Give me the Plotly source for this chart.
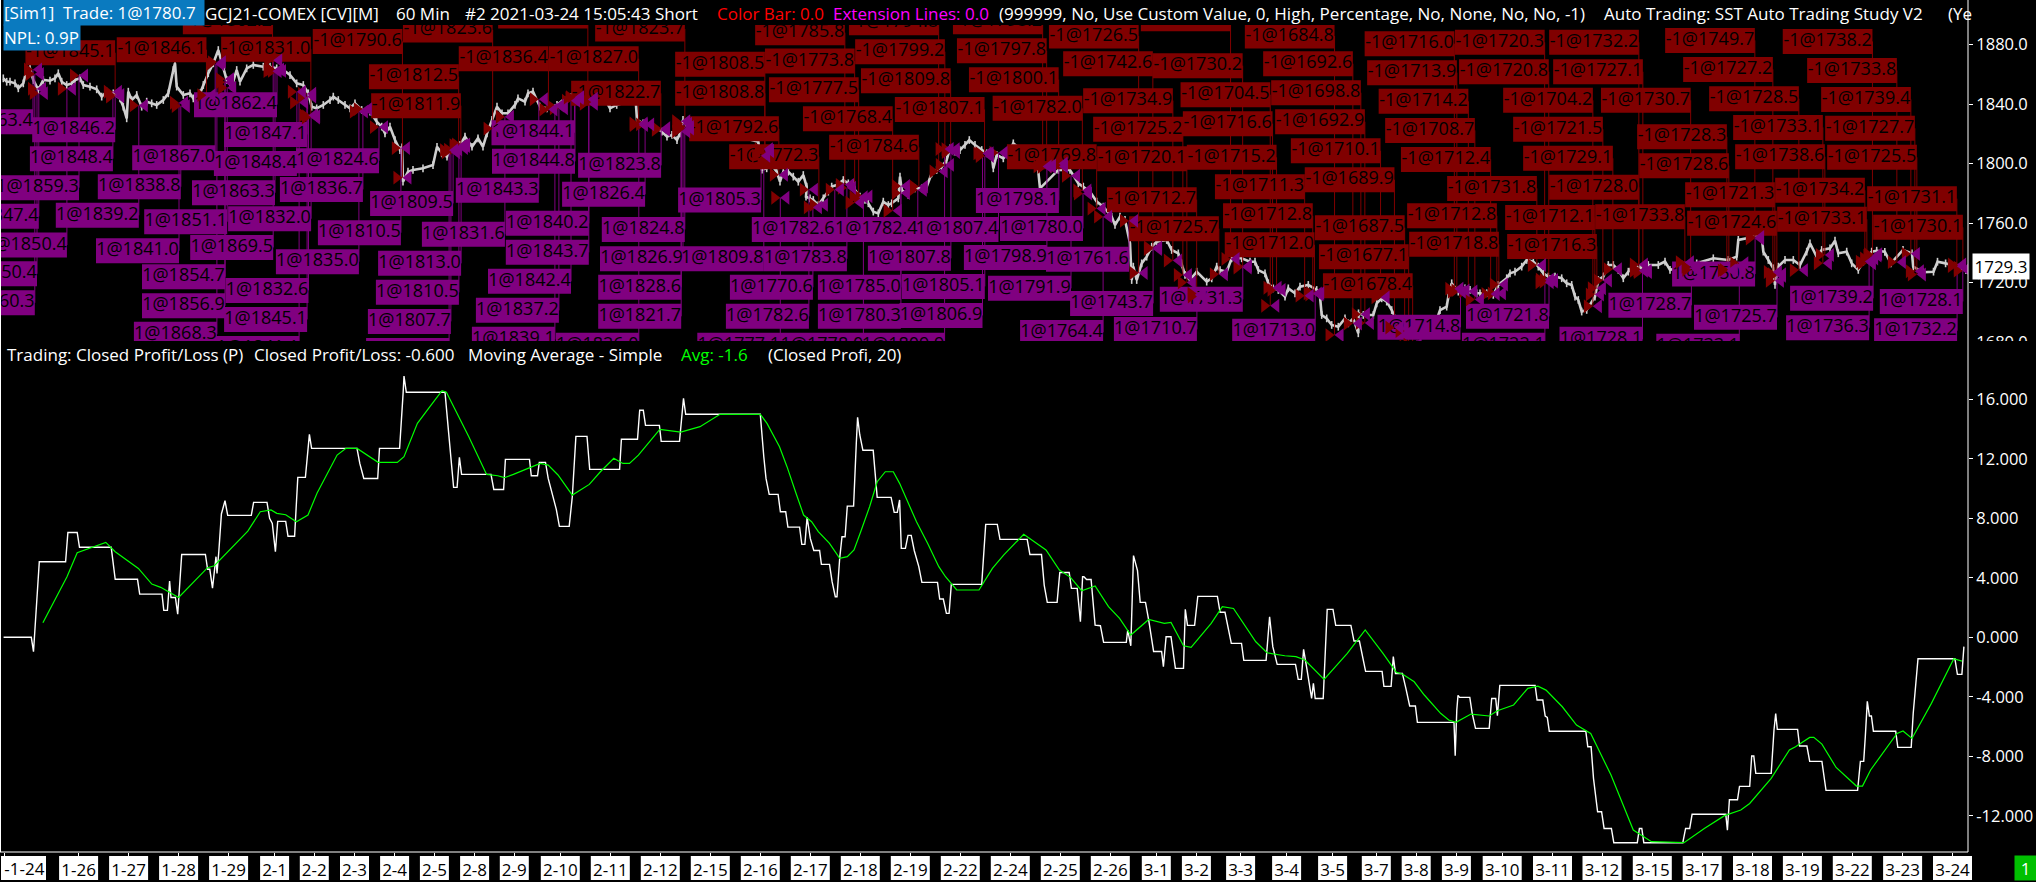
import plotly.graph_objects as go

W, H = 2036, 882
FONT = "Open Sans"

# ---------- price pane: bar position / price ----------
price_x = [3.3,6.7,10,15,18.3,23.3,26.7,30,33.3,38.3,43.3,50,55,58.3,61.7,66.7,71.7,75,80,83.3,90,96.7,101.7,106.7,113.3,120,123.3,126.7,128.3,131.7,136.7,141.7,146.7,151.7,156.7,163.3,168.3,173.3,175,176.7,183.3,190,193.3,200,203.3,208.3,213.3,218.3,226.7,231.7,236.7,240,246.7,253.3,263.3,270,276.7,283.3,290,296.7,303.3,308.3,311.7,316.7,323.3,330,333.3,338.3,345,350,355,361.7,370,376.7,381.7,385,390,395,400,402,403,408,413,423,433,437,442,447,453,460,465,472,478,483,487,492,497,502,508,515,518,525,528,533,540,547,557,563,573,583,592,600,610,616.7,633,636,637,643,653,662,667,672,677,680,683,687,700,720,740,758.3,762,766.7,771.7,776.7,780,783.3,788.3,793.3,798.3,803.3,806.7,806,810,813.3,818.3,823.3,828.3,831.7,836.7,843.3,848.3,853.3,855,860,865,868.3,873.3,878.3,883.3,888.3,891.7,898.3,900,901.7,908.3,915,921.7,926.7,931.7,936.7,941.7,946.7,950,955,960,965,969.3,975,981.7,986.7,991.7,993.3,996.7,1003.3,1008.3,1013.3,1020,1030,1038,1040,1058.3,1070,1078.3,1083.3,1090,1096.7,1103.3,1111.7,1115,1120,1125,1130,1131.7,1133.3,1136.7,1141.7,1146.7,1151.7,1156.7,1166.7,1171.7,1178.3,1181.7,1185,1190,1196.7,1206.7,1211.7,1216.7,1220,1226.7,1231.7,1241.7,1250,1255,1258.3,1265,1268.3,1273.3,1278.3,1285,1288.3,1295,1300,1308.3,1316.7,1320,1321.7,1326.7,1331.7,1338.3,1345,1348.3,1353.3,1358.3,1358.5,1363.3,1373.3,1376.7,1381.7,1386.7,1391.7,1400,1420,1435,1440,1446.7,1448.3,1451.7,1458.3,1465,1470,1476.7,1480,1486.7,1493.3,1498.3,1506.7,1510,1515,1521.7,1526.7,1533.3,1538.3,1543.3,1548.3,1555,1561.7,1566.7,1571.7,1575,1578.3,1581.7,1586.7,1595,1598.3,1603.3,1608.3,1613.3,1618.3,1623.3,1628.3,1633.3,1640,1648.3,1658.3,1665,1670,1680,1696.7,1713.3,1728.3,1736.7,1738.3,1746.7,1751.7,1761.7,1763.3,1768.3,1773.3,1775,1778.3,1785,1793.3,1800,1806.7,1810,1816.7,1821.7,1830,1835,1838.3,1846.7,1851.7,1858.3,1863.3,1871.7,1876.7,1884.8,1890.9,1903,1912,1913.2,1923.3,1933.5,1937.5,1945.6,1955.8,1966]
price_y = [1857.4,1855.1,1855.1,1854,1850.7,1854,1863,1864.1,1856.3,1849.5,1856.3,1855.8,1857.4,1860.8,1855.1,1852.9,1854,1856.3,1857.4,1852.9,1851.8,1850,1845.1,1848.4,1847.3,1843.9,1838.3,1830.5,1848.4,1842.8,1846.2,1838.3,1841.7,1840.6,1839.5,1842.8,1847.3,1863,1867.5,1851.8,1846.2,1847.3,1843.9,1847.3,1852.9,1860.8,1867.5,1876.4,1856.3,1851.8,1863,1855.1,1864.1,1866.4,1865.2,1865.2,1864.1,1863,1859.6,1854,1852.9,1847.3,1838.3,1837.2,1839.5,1842.8,1845.1,1842.8,1839.5,1837.2,1840.6,1836.1,1835,1828.3,1824.9,1820.4,1824.9,1815.9,1809.2,1811,1787.9,1794.6,1795.8,1796.9,1799.1,1811.4,1807,1804.7,1813.7,1812.6,1818.2,1811.4,1817.1,1811.4,1820.4,1829.4,1838.3,1833.9,1833.9,1839.5,1843.9,1841.7,1847.3,1848.4,1838.3,1837.2,1839.5,1842.8,1847.3,1840.6,1847.3,1849.5,1837.2,1839.5,1842.8,1839.5,1829.4,1827.1,1826,1821.5,1818.2,1819.3,1815.9,1820.4,1829.4,1824.9,1822,1820,1818,1814.8,1796,1796.9,1799.1,1794.6,1787.9,1794.6,1794.6,1791.3,1787.9,1792.4,1784.6,1777.8,1776.7,1775.6,1772.2,1776.7,1781.2,1784.6,1785.7,1789,1786.8,1786.8,1782.3,1777.8,1775.6,1773.4,1767.8,1766.6,1774.5,1772.2,1773.4,1776.7,1791.3,1782.3,1779,1783.4,1783.4,1784.6,1793.5,1795.8,1798,1802.5,1810.3,1808.1,1809.2,1812.6,1815.9,1812.6,1809.2,1807,1805.9,1796.9,1805.9,1803.6,1807,1813.7,1810,1800,1796.9,1783.4,1795.8,1795.8,1786.8,1784.6,1781.2,1774.5,1771.1,1764.4,1758.8,1764.4,1762.2,1746.5,1721.8,1730.8,1721.8,1733,1737.5,1744.2,1747.6,1748.7,1742,1739.7,1733,1725.2,1721.8,1727.4,1720.7,1722.9,1730.8,1728.5,1727.4,1736.4,1736.4,1734.1,1734.1,1728.5,1726.3,1719.6,1716.2,1715.1,1710.6,1716.2,1712.9,1717.3,1718.5,1715.1,1710.6,1698.3,1696,1691.6,1690.4,1696,1692.7,1696,1686,1699.4,1698.3,1698.3,1706.1,1709.5,1707.3,1701.6,1690,1685,1692,1701.6,1703.9,1710.6,1719.6,1714,1716.2,1715.1,1712.9,1712.9,1712.9,1711.8,1718.5,1723,1726.3,1727.4,1730.8,1735.3,1734.2,1730.8,1726.3,1724.1,1724.1,1723,1719.6,1718.5,1710.6,1708.4,1700.6,1701.7,1710.6,1721.8,1724.1,1731.9,1731.9,1728.6,1723,1727.4,1731.9,1729.7,1731.9,1731.9,1734.2,1728.6,1730.8,1733,1736.4,1735.3,1737.5,1748.8,1749.9,1752.1,1751.4,1740.9,1735.3,1729.7,1718.5,1730.8,1735.3,1735.3,1731.9,1740.9,1746.5,1737.5,1742,1743.1,1748.3,1739.8,1740.9,1733,1728.6,1734.2,1740.9,1741.5,1740.8,1733,1742,1739.7,1730.8,1727,1727.4,1734.1,1733,1730.8,1728.5]

# ---------- trades: fill price, label centre on the bar axis, label level on the price axis ----------
sell_price = [1862.2,1845.1,1846.1,1831.0,1790.6,1823.6,1812.5,1811.9,1836.4,1827.0,1822.7,1823.7,1843.1,1808.5,1808.8,1792.6,1785.8,1794.8,1798.2,1726.5,1736.0,1684.8,1773.8,1799.2,1797.8,1742.6,1730.2,1692.6,1777.5,1809.8,1800.1,1734.9,1704.5,1698.8,1768.4,1807.1,1782.0,1725.2,1716.6,1692.9,1784.6,1772.3,1769.8,1720.1,1715.2,1710.1,1711.3,1689.9,1712.7,1712.8,1687.5,1725.7,1712.0,1677.1,1678.4,1716.0,1720.3,1732.2,1749.7,1738.2,1713.9,1720.8,1727.1,1727.2,1733.8,1714.2,1704.2,1730.7,1728.5,1739.4,1708.7,1721.5,1728.3,1733.1,1727.7,1712.4,1729.1,1728.6,1738.6,1725.5,1731.8,1728.0,1721.3,1734.2,1731.1,1712.8,1712.1,1733.8,1724.6,1733.1,1730.1,1718.8,1716.3]
sell_label_x = [227.7,70.3,161.6,266,357.6,447.8,413.8,416,503.6,593.8,616,640,543,720,720,734,800,893.8,997.8,1093.8,1185.7,1289.7,809.8,900,1001.8,1108,1197.8,1308,813.8,905.8,1013.8,1128,1225.4,1316,847.8,939.7,1037.5,1138,1227.7,1320,874,774,1051.8,1142,1231.7,1335.7,1259.8,1349.6,1151.8,1267.9,1359.8,1174,1269.6,1363.8,1367.8,1409.5,1499.8,1594,1710,1827.6,1412,1503.9,1598,1728,1852,1423.5,1548,1645.8,1754,1866,1430,1558,1682,1778,1870,1445.8,1568,1684,1780,1872,1492,1594,1730,1820,1912,1452,1550,1640,1732,1822,1918,1454,1552]
sell_label_y = [1895.5,1874.6,1876.6,1876.9,1882.2,1889.9,1858.5,1839.0,1870.6,1870.6,1847.3,1890.5,1899.3,1866.8,1847.3,1823.5,1888.1,1894.8,1895.5,1885.8,1897.5,1885.8,1869,1875.3,1876,1867.2,1865.9,1867.2,1849.7,1855.8,1856.5,1842.4,1846.4,1847.7,1830.2,1836.5,1837.2,1823.1,1826.9,1828.2,1811,1804.7,1804.7,1803.4,1804.3,1808.7,1784.5,1789.2,1775.8,1765,1757,1756.3,1745.5,1737.5,1718,1880.7,1881.6,1881.6,1882.9,1882.2,1861.2,1861.8,1861.8,1863.4,1862.7,1841.9,1842.6,1842.6,1843.7,1843.2,1822.4,1823.1,1818.1,1824.4,1823.8,1802.9,1803.6,1798.7,1804.7,1804.3,1783.4,1784.1,1779.2,1782.1,1776.5,1765,1763.9,1764.4,1759.9,1762.6,1757.2,1745.8,1744.4]

buy_price = [1863.4,1846.2,1848.4,1859.3,1847.4,1850.4,1850.4,1860.3,1862.4,1847.1,1867.0,1848.4,1824.6,1838.8,1863.3,1836.7,1839.2,1851.1,1832.0,1841.0,1869.5,1810.5,1835.0,1854.7,1832.6,1856.9,1845.1,1868.3,1841.1,1809.5,1831.6,1813.0,1810.5,1807.7,1809.1,1844.1,1844.8,1843.3,1840.2,1843.7,1842.4,1837.2,1839.1,1826.0,1823.8,1826.4,1824.8,1826.9,1828.6,1821.7,1805.3,1809.8,1782.6,1782.4,1807.4,1783.8,1807.8,1798.9,1761.6,1798.1,1780.0,1770.6,1785.0,1805.1,1791.9,1782.6,1780.3,1806.9,1743.7,1731.3,1764.4,1710.7,1713.0,1777.1,1778.0,1809.9,1714.8,1721.8,1728.7,1750.8,1725.7,1739.2,1728.1,1736.3,1732.2,1722.1,1728.1,1733.1]
buy_label_x = [-8.5,73.7,71.4,37.5,-2.7,25.4,-4.5,-6.7,235.5,265.6,173.7,255.4,337.5,139.3,233.5,321.4,97.3,185.7,269.6,137.5,231.7,359.4,317.4,183.5,267,183.5,265.6,175.4,257.6,411.6,463.4,419.6,417.4,409.4,407.6,533,533.5,497.3,547.3,547.3,529.5,517.4,513.4,597.3,619.6,603.6,643.3,641.5,639.7,639.7,719.6,722.3,793.3,876.3,957,805.4,909.4,1005.4,1087.5,1017.4,1041.5,771.4,859.4,943.3,1029.5,767.4,859.4,941,1111.6,1201.3,1061.6,1155.4,1273.7,738.8,821.9,903.1,1419,1507.5,1649.9,1713.6,1735.5,1831.6,1921.3,1827.6,1915.6,1503.4,1601,1697.8]
buy_label_y = [1828.2,1822.9,1803.4,1783.9,1764.6,1745.3,1726,1706.5,1839.7,1819.7,1804,1800.2,1802,1784.5,1780.5,1782.7,1765.3,1761,1763,1741.5,1743.7,1753.6,1734.1,1724,1714.8,1704.5,1695.3,1685.3,1675.8,1773.3,1752.5,1733,1713.5,1694,1674.5,1820.8,1801.6,1782.1,1759.9,1740.4,1720.9,1701.4,1681.9,1677.9,1798.9,1779.4,1755.8,1736.1,1716.9,1697.4,1775.6,1736.1,1755.8,1755.8,1755.8,1736.1,1736.4,1737,1735.7,1775.3,1756.5,1716.9,1716.9,1717.5,1716.2,1697.4,1697.4,1698,1706.1,1708.8,1686.6,1688.6,1687.3,1677.9,1677.9,1677.9,1690,1697.4,1704.8,1725.8,1696.7,1709.5,1707.4,1689.7,1687.7,1677.9,1681.9,1677.2]

price_ticks = [1880, 1840, 1800, 1760, 1720, 1680]
price_ticktext = ["1880.0", "1840.0", "1800.0", "1760.0", "1720.0", "1680.0"]
last_price_label = "1729.3"

# ---------- profit / loss pane ----------
pl_x = [3.6,31.3,33.5,35.7,39.3,65.6,67.9,77.2,79.5,111.2,115.2,137.5,139.7,162,163.8,167.4,169.6,171,175.4,177.7,181.7,205.4,207.6,209.8,212.5,216,217,218.8,221.4,225,227.7,251.3,253.6,267,269.6,272.3,275.4,277.7,285.7,288,294.6,297.8,305.4,309.4,311.6,357,359.8,363.8,377.7,379.5,399.6,403.1,404,406.3,445,448.7,453.6,457.1,459.4,461.6,491,493.8,503.6,505.4,529.5,531.3,537.5,539.3,545.5,548.2,552.2,556.3,559.4,569.2,572.3,575.9,587,589.7,619.6,621.4,637.5,639.7,643.3,645.5,659.4,661.2,679.5,683.5,685.7,760.3,763.8,766,769.2,778.1,780.4,785.7,787.9,799.6,801.8,804.9,807.1,810.3,813.8,819.6,821.4,829.5,832.1,835.3,837,839.7,842,845.1,847.3,853.6,856.3,857.6,859.8,862.9,873.2,877.2,891.1,894.2,897.3,899.6,901.3,905.4,908,911.2,914.3,918.8,921.9,937.5,939.7,943.3,946.4,949.1,951.3,981.7,985.7,997.3,1000,1027.2,1029.9,1041.5,1044.2,1047.3,1057.1,1059.8,1069.2,1071.4,1077.2,1080.4,1082.6,1083.9,1086.6,1091.1,1095.1,1100.4,1103.6,1126.3,1127.7,1130.8,1133.5,1137.5,1140.2,1145.5,1148.7,1153.6,1161.6,1163.4,1166.1,1171,1175.4,1183.5,1185.3,1187.5,1194.6,1197.8,1217.4,1220.1,1225,1228.1,1231.3,1241.5,1243.8,1266.1,1269.6,1272.8,1277.2,1295.5,1298.2,1301.3,1303.6,1307.1,1311.6,1313.4,1315.2,1323.2,1327.2,1333,1335.7,1350.9,1354,1359.4,1362.5,1365.6,1382.1,1383.9,1391.1,1393.3,1395.5,1402.4,1406.1,1409.7,1415.4,1417.4,1454,1455.2,1456.8,1458,1459.6,1469.8,1472.2,1475.5,1489.2,1491.7,1495.7,1497.4,1499.8,1535.1,1537.1,1542.8,1545.2,1547.3,1549.3,1585.8,1587.8,1591.1,1593.5,1597.6,1601.6,1604.1,1611.4,1613.8,1637.3,1639.4,1641.8,1643.8,1682.8,1685.6,1689.7,1692.1,1725.8,1727.4,1729.4,1737.5,1739.5,1749.7,1751.7,1753.8,1755.8,1771.2,1774,1775.7,1777.3,1797.6,1799.6,1806.9,1809.7,1821.9,1826,1857.6,1860.4,1863.7,1865.3,1867.3,1869.4,1871.4,1873.4,1895.7,1897.8,1911.2,1913.2,1916,1918,1954.9,1957.4,1961.9,1963.9]
pl_y = [0,0,-0.97,1.38,5.08,5.08,7.05,7.05,6.05,6.05,3.9,3.9,2.9,2.9,1.81,1.81,3.78,2.68,2.68,1.56,5.57,5.57,4.57,4.57,3.31,5.42,4.3,5.75,8.29,9.18,8.2,8.2,9.07,9.07,8,7.66,5.75,7.79,7.79,6.79,6.79,10.75,10.75,13.64,12.7,12.7,11.69,10.68,10.68,12.7,12.7,16.4,17.56,16.47,16.47,13.71,10.08,10.08,12.1,10.95,10.95,9.94,9.94,11.96,11.96,10.86,10.86,11.76,11.76,10.68,9.68,8.6,7.46,7.46,9.45,13.51,13.51,11.29,11.29,13.31,13.31,15.26,15.26,14.25,14.25,13.17,13.17,16.06,14.99,14.99,12.14,10.68,9.61,9.61,8.44,8.44,7.41,7.41,6.25,6.25,8.06,6.65,5.84,5.84,4.9,4.9,3.74,2.73,2.73,5.31,6.76,6.76,8.82,8.82,13.04,14.79,13.6,12.57,12.57,9.41,9.41,8.4,8.4,9.23,5.98,5.98,6.85,6.85,5.82,4.75,3.69,3.69,2.57,2.57,1.61,1.61,3.56,3.56,7.59,7.59,6.58,6.58,5.57,5.57,3.51,2.35,2.35,4.36,4.36,3.29,3.29,1.05,4.07,4.07,3.89,3.89,0.82,0.78,-0.34,-0.34,0.49,-0.57,5.49,4.48,2.35,2.35,1.16,-0.95,-0.95,-1.98,0.04,0.04,-2.09,-2.09,1.88,0.8,0.8,2.75,2.75,1.68,1.68,0.6,-0.41,-0.41,-1.55,-1.55,1.38,-0.63,-1.82,-1.82,-2.83,-2.83,-0.81,-2.2,-4.11,-3.1,-4.11,-4.11,1.88,1.88,0.8,0.8,-0.25,-0.25,-1.3,-2.29,-2.29,-3.3,-3.3,-1.3,-2.43,-2.43,-3.5,-4.62,-4.62,-5.72,-5.72,-7.96,-4.89,-3.9,-4.04,-4.04,-5.11,-6.12,-6.12,-4.11,-4.11,-5.27,-3.23,-3.23,-4.22,-4.22,-5.29,-5.38,-6.32,-6.32,-7.36,-7.36,-9.48,-11.73,-11.73,-12.85,-12.85,-13.81,-13.81,-12.85,-12.85,-13.81,-13.81,-12.85,-12.85,-11.9,-11.9,-12.96,-10.92,-10.92,-10.02,-10.02,-7.98,-7.98,-9.15,-9.15,-6.23,-5.12,-6.19,-6.19,-7.31,-7.31,-8.34,-8.34,-10.29,-10.29,-8.34,-8.34,-6.68,-4.31,-5.29,-5.29,-6.32,-6.32,-7.4,-7.4,-5.12,-2.87,-1.44,-1.44,-2.49,-2.49,-0.63]
avg_x = [42.9,53.6,67,77.2,84.8,105.8,115.2,127.2,138.4,151.8,160.7,178.6,207.6,214.3,247.8,260.3,271,276.8,285.7,296.4,308,317,325.9,337.1,346,357.1,378.1,397.3,404,417.4,428.6,442,446.4,468.8,486.6,497.8,504.5,513.4,540.2,548.2,558,572.3,589.3,600.4,613.8,622.8,629.5,638.4,659.8,680.8,700,720,760.3,767,779.5,787,796,803.6,811.6,818.3,829.5,839.7,847.3,854,860.7,869.6,877.2,885.3,893.3,899.6,916.5,927.7,938.8,945.5,956.7,979,992.4,1003.6,1023.7,1046,1059.4,1070.5,1081.7,1095.1,1108.5,1119.6,1130.8,1148.7,1164.3,1171,1183.5,1191.1,1211.2,1222.3,1233.5,1255.8,1267,1284.8,1296,1304.9,1324.1,1347.3,1365.2,1383,1396.4,1402.4,1414.2,1424.3,1440.6,1448.7,1456,1471,1489.2,1497.4,1513.6,1527.8,1537.9,1546,1562.3,1576.5,1590.7,1611,1633.3,1651.5,1684,1704.3,1724.5,1740.8,1749.7,1771.2,1789.4,1795.5,1809.7,1813.8,1821.9,1836.1,1856.4,1862.5,1870.6,1897,1903,1912,1931.4,1953.8,1961.9]
avg_y = [0.98,2.39,4.07,5.69,5.87,6.38,5.75,5.19,4.63,3.58,3.36,2.68,4.68,4.81,7.14,8.44,8.56,8.33,8.24,7.77,8.22,9.68,10.8,12.25,12.7,12.7,11.76,11.76,12.14,14.38,15.39,16.58,16.47,13.49,10.95,10.86,10.73,10.95,11.69,11.58,10.91,9.56,10.28,11.13,12.03,11.69,11.69,12.25,13.98,13.8,14.16,14.99,14.99,14.38,12.81,11.47,9.68,8.22,7.77,7.1,6.31,5.31,5.42,5.87,7.1,8.78,10.46,11.13,11.13,10.35,7.77,6.31,4.75,4.07,3.18,3.18,4.63,5.53,6.92,5.87,4.52,4.03,3.13,3.45,2.06,1.27,0.15,1.2,0.94,1,-0.57,-0.68,0.94,2.06,1.94,-0.3,-1.04,-1.24,-1.3,-1.53,-2.83,-1.08,0.49,-1.08,-2.36,-2.47,-2.99,-3.88,-5.11,-5.56,-5.72,-5.16,-5.29,-4.94,-4.55,-3.43,-3.28,-3.55,-4.67,-5.9,-6.46,-9.26,-12.96,-13.74,-13.81,-12.85,-11.99,-11.61,-11.17,-9.48,-7.58,-7.36,-6.73,-6.73,-7.18,-8.75,-10,-10,-8.92,-6.46,-6.3,-6.8,-4.44,-1.44,-1.6]

pl_ticks = [16, 12, 8, 4, 0, -4, -8, -12]
pl_ticktext = ["16.000", "12.000", "8.000", "4.000", "0.000", "-4.000", "-8.000", "-12.000"]

# ---------- date axis ----------
date_ticks = [78.6,128.6,178.6,228.6,274.6,314.3,354.5,394.6,434.4,474.6,514.3,560.3,610.3,660.3,710.3,760.3,810.3,860.3,910.3,960.3,1010.3,1060.3,1110.3,1156.3,1196.4,1240.6,1286.6,1332.6,1376.3,1416.2,1456.4,1502.2,1552.5,1602,1652.3,1702.2,1752.5,1802.4,1852.3,1902.6,1952.5]
date_labels = ["1-26","1-27","1-28","1-29","2-1","2-2","2-3","2-4","2-5","2-8","2-9","2-10","2-11","2-12","2-15","2-16","2-17","2-18","2-19","2-22","2-24","2-25","2-26","3-1","3-2","3-3","3-4","3-5","3-7","3-8","3-9","3-10","3-11","3-12","3-15","3-17","3-18","3-19","3-22","3-23","3-24"]
first_date_tick = 4.5
first_date_label = "-1-24"

# ---------- geometry and colours ----------
PLOT_R = 1968
PANE1 = (25, 343)
PANE1_CLIP = 341
PANE2 = (365, 852)
PX_PER_PRICE = 59.5 / 40
PX_PER_PL = 59.5 / 4
SELL_W, BUY_W, BOX_H = 89.7, 83.0, 25.0
RED, PURPLE, GREY, GREEN = "#800000", "#800080", "#cfcfcf", "#00ff00"
FS = 17
LABEL_FS = 18
AXIS_FS = 16.5
TRI_SIZE = 12
TRI_OFFSET = 6


def px(x):
    return x / W


def py(y):
    return 1 - y / H


def boxes(centres, levels, width):
    xs, ys = [], []
    half = BOX_H / PX_PER_PRICE / 2
    for c, l in zip(centres, levels):
        xs += [c - width / 2, c + width / 2, c + width / 2, c - width / 2, c - width / 2, None]
        ys += [l - half, l - half, l + half, l + half, l - half, None]
    return xs, ys


def stems(centres, levels, prices, width):
    xs, ys = [], []
    for c, l, p in zip(centres, levels, prices):
        xs += [c + width / 2, c + width / 2, None]
        ys += [l, p, None]
    return xs, ys


sell_bar = [c + SELL_W / 2 for c in sell_label_x]
buy_bar = [c + BUY_W / 2 for c in buy_label_x]
# every fill is drawn as a bow-tie: a dark red and a purple triangle meeting at the bar
trade_bar = sell_bar + buy_bar
trade_price = sell_price + buy_price

fig = go.Figure()


def add(**kw):
    kw.setdefault("hoverinfo", "skip")
    kw.setdefault("showlegend", False)
    fig.add_trace(go.Scatter(**kw))


add(x=price_x, y=price_y, mode="lines", line=dict(color=GREY, width=2.6),
    error_y=dict(type="constant", value=2.6, thickness=1.6, width=0, color=GREY), xaxis="x", yaxis="y")

sx, sy = stems(sell_label_x, sell_label_y, sell_price, SELL_W)
add(x=sx, y=sy, mode="lines", line=dict(color=RED, width=1), xaxis="x", yaxis="y")
bx, by = stems(buy_label_x, buy_label_y, buy_price, BUY_W)
add(x=bx, y=by, mode="lines", line=dict(color=PURPLE, width=1), xaxis="x", yaxis="y")

sx, sy = boxes(sell_label_x, sell_label_y, SELL_W)
add(x=sx, y=sy, mode="lines", fill="toself", fillcolor=RED, line=dict(width=0, color=RED), xaxis="x", yaxis="y")
bx, by = boxes(buy_label_x, buy_label_y, BUY_W)
add(x=bx, y=by, mode="lines", fill="toself", fillcolor=PURPLE, line=dict(width=0, color=PURPLE), xaxis="x", yaxis="y")

add(x=sell_label_x, y=sell_label_y, mode="text", text=[f"-1@{p:.1f}" for p in sell_price],
    textposition="middle center", textfont=dict(family=FONT, size=LABEL_FS, color="#000000"), xaxis="x", yaxis="y")
add(x=buy_label_x, y=buy_label_y, mode="text", text=[f"1@{p:.1f}" for p in buy_price],
    textposition="middle center", textfont=dict(family=FONT, size=LABEL_FS, color="#000000"), xaxis="x", yaxis="y")

add(x=[b - TRI_OFFSET for b in trade_bar], y=trade_price, mode="markers",
    marker=dict(symbol="triangle-right", size=TRI_SIZE, color=RED, line=dict(width=0)), xaxis="x", yaxis="y")
add(x=[b + TRI_OFFSET for b in trade_bar], y=trade_price, mode="markers",
    marker=dict(symbol="triangle-left", size=TRI_SIZE, color=PURPLE, line=dict(width=0)), xaxis="x", yaxis="y")

add(x=pl_x, y=pl_y, mode="lines", line=dict(color="#ffffff", width=1.4), xaxis="x2", yaxis="y2")
add(x=avg_x, y=avg_y, mode="lines", line=dict(color=GREEN, width=1.2), xaxis="x2", yaxis="y2")

shapes = []
# date label backgrounds
for t, lab in zip(date_ticks, date_labels):
    w = 10 * len(lab) - 1
    shapes.append(dict(type="rect", xref="paper", yref="paper", x0=px(t - w / 2), x1=px(t + w / 2),
                       y0=py(880), y1=py(856), fillcolor="#ffffff", line=dict(width=0), layer="below"))
shapes.append(dict(type="rect", xref="paper", yref="paper", x0=px(1), x1=px(46), y0=py(880), y1=py(856),
                   fillcolor="#ffffff", line=dict(width=0), layer="below"))
# the top pane stops here: trims its labels and the lowest price tick label
shapes.append(dict(type="rect", xref="paper", yref="paper", x0=0, x1=1, y0=py(352), y1=py(PANE1_CLIP),
                   fillcolor="#000000", line=dict(width=0), layer="above"))
# frame
for x0, y0, x1, y1 in [(PLOT_R, 0, PLOT_R, PANE2[1]), (0.5, 0, 0.5, PANE2[1]), (0, PANE2[1], PLOT_R, PANE2[1])]:
    shapes.append(dict(type="line", xref="paper", yref="paper", x0=px(x0), x1=px(x1), y0=py(y0), y1=py(y1),
                       line=dict(color="#ffffff", width=1), layer="above"))


def note(x, y, text, color="#ffffff", **kw):
    base = dict(xref="paper", yref="paper", x=px(x), y=py(y), text=text, showarrow=False, xanchor="left",
                yanchor="middle", font=dict(family=FONT, size=FS, color=color), borderpad=0)
    base.update(kw)
    return base


annotations = [
    note(3, 12.5, "[Sim1]\u00a0\u00a0Trade: 1@1780.7", bgcolor="#0a7abf", width=200, height=25, align="left"),
    note(3, 37.5, "NPL: 0.9P", bgcolor="#0a7abf", width=76, height=25, align="left"),
    note(204, 14, "GCJ21-COMEX [CV][M]"),
    note(394.6, 14, "60 Min"),
    note(464, 14, "#2 2021-03-24 15:05:43 Short"),
    note(715.6, 14, "Color Bar: 0.0", "#ff0000"),
    note(831.7, 14, "Extension Lines: 0.0", "#ff00ff"),
    note(998, 14, "(999999, No, Use Custom Value, 0, High, Percentage, No, None, No, No, -1)"),
    note(1603, 14, "Auto Trading: SST Auto Trading Study V2"),
    note(1947, 14, "(Ye"),
    note(6, 354, "Trading: Closed Profit/Loss (P)"),
    note(253, 354, "Closed Profit/Loss: -0.600"),
    note(467, 354, "Moving Average - Simple"),
    note(679.5, 354, "Avg: -1.6", GREEN),
    note(767, 354, "(Closed Profi, 20)"),
    note(1972, 266.5, last_price_label, "#000000", bgcolor="#ffffff", width=56, height=25, align="center"),
    note(2014, 868, "1", "#ffffff", bgcolor="#00c000", width=21, height=24, align="center"),
    note(1, 868, first_date_label, "#000000", width=45, height=24, align="center"),
]

axis_common = dict(showgrid=False, zeroline=False, fixedrange=True, automargin=False,
                   range=[0, PLOT_R], domain=[0, px(PLOT_R)])
y1_range = [1880 - (PANE1[1] - 44.7) / PX_PER_PRICE, 1880 + (44.7 - PANE1[0]) / PX_PER_PRICE]
y2_range = [16 - (PANE2[1] - 399.3) / PX_PER_PL, 16 + (399.3 - PANE2[0]) / PX_PER_PL]

fig.update_layout(
    width=W, height=H, margin=dict(l=0, r=0, t=0, b=0, autoexpand=False), paper_bgcolor="#000000",
    plot_bgcolor="#000000",
    font=dict(family=FONT, size=FS, color="#ffffff"), showlegend=False, shapes=shapes, annotations=annotations,
    xaxis=dict(**axis_common, anchor="y", showticklabels=False, ticks=""),
    xaxis2=dict(**axis_common, anchor="y2", ticks="outside", ticklen=3, tickcolor="#ffffff",
                tickmode="array", tickvals=[first_date_tick] + date_ticks, ticktext=[""] + date_labels,
                tickfont=dict(family=FONT, size=FS, color="#000000"), tickangle=0),
    yaxis=dict(showgrid=False, zeroline=False, fixedrange=True, automargin=False, domain=[py(PANE1[1]), py(PANE1[0])],
               range=y1_range, anchor="x", side="right", ticks="outside", ticklen=4, tickcolor="#ffffff",
               tickmode="array", tickvals=price_ticks, ticktext=price_ticktext,
               tickfont=dict(family=FONT, size=AXIS_FS, color="#ffffff")),
    yaxis2=dict(showgrid=False, zeroline=False, fixedrange=True, automargin=False, domain=[py(PANE2[1]), py(PANE2[0])],
                range=y2_range, anchor="x2", side="right", ticks="outside", ticklen=4, tickcolor="#ffffff",
                tickmode="array", tickvals=pl_ticks, ticktext=pl_ticktext,
                tickfont=dict(family=FONT, size=AXIS_FS, color="#ffffff")),
)

fig.write_html("out.html", config=dict(displayModeBar=False),
               post_script="document.body.style.margin='0';document.body.style.overflow='hidden';")
